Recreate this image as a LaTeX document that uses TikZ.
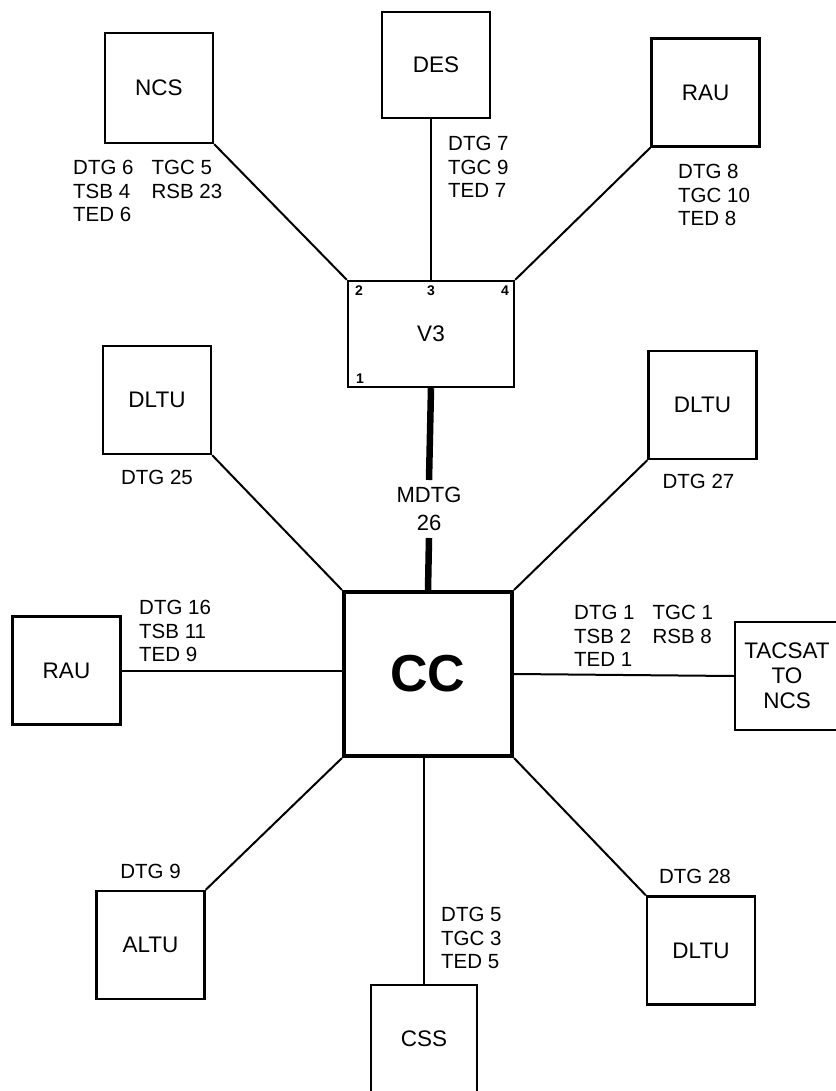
\documentclass[tikz,border=0pt]{standalone}
\usepackage{fontspec}
\setmainfont{Liberation Sans}
\usetikzlibrary{positioning}

\begin{document}
\begin{tikzpicture}[x=1pt, y=-1pt,
  box/.style={draw, line width=2.4pt, minimum width=108pt, minimum height=108pt, inner sep=0pt, align=center, font=\fontsize{22.5}{25}\selectfont},
  hub/.style={box, line width=4.2pt, minimum width=168pt, minimum height=164pt, font=\fontsize{52}{56}\selectfont\bfseries},
  lab/.style={inner sep=0pt, align=left, font=\fontsize{20.5}{23.5}\selectfont},
  port/.style={inner sep=0pt, font=\fontsize{14}{15}\selectfont\bfseries},
  link/.style={line width=2pt},
  trunk/.style={line width=6.5pt}]
\useasboundingbox (0,0) rectangle (835,1091);
% switch and hub
\node[box, minimum width=166pt, minimum height=106pt] (v3) at (431,334) {V3};
\node[hub] (cc) at (428,674) {CC};
\node[align=center, inner xsep=2pt, inner ysep=7pt, font=\fontsize{22}{28}\selectfont] (mdtg) at (429,509) {MDTG\\26};
\node[port, below right=6pt and 8pt of v3.north west] (p2) {2};
\node[port, below=6pt of v3.north] (p3) {3};
\node[port, below left=6pt and 6pt of v3.north east] (p4) {4};
\node[port, above right=5pt and 9pt of v3.south west] (p1) {1};
% top row
\node[box, minimum height=110pt] (ncs) at (159,88) {NCS};
\node[box, minimum height=106pt] (des) at (436,65) {DES};
\node[box] (rau1) at (705.5,92.5) {RAU};
% middle row
\node[box] (dltu1) at (157,400) {DLTU};
\node[box] (dltu2) at (702.5,405) {DLTU};
\node[box] (rau2) at (66.5,670.5) {RAU};
\node[box, minimum width=104pt] (tac) at (787,676) {TACSAT\\TO\\NCS};
% bottom row
\node[box] (altu) at (150.5,945) {ALTU};
\node[box, minimum width=106pt] (css) at (424,1039) {CSS};
\node[box] (dltu3) at (701,950.5) {DLTU};
% trunk group labels
\node[lab, anchor=north west] (ncslab) at (73,158) {\begin{tabular}{@{}l@{\hspace{18pt}}l@{}}DTG 6 & TGC 5\\TSB 4 & RSB 23\\TED 6 & \end{tabular}};
\node[lab, anchor=north west] (deslab) at (448,136) {DTG 7\\TGC 9\\TED 7};
\node[lab, anchor=north west] (rau1lab) at (678,164) {DTG 8\\TGC 10\\TED 8};
\node[lab, below=15pt of dltu1] (dltu1lab) {DTG 25};
\node[lab, below=14pt of dltu2, xshift=-4pt] (dltu2lab) {DTG 27};
\node[lab, anchor=north west] (rau2lab) at (139,600) {DTG 16\\TSB 11\\TED 9};
\node[lab, anchor=north west] (taclab) at (574,603) {\begin{tabular}{@{}l@{\hspace{18pt}}l@{}}DTG 1 & TGC 1\\TSB 2 & RSB 8\\TED 1 & \end{tabular}};
\node[lab, above=11pt of altu] (altulab) {DTG 9};
\node[lab, anchor=north west] (csslab) at (441,907) {DTG 5\\TGC 3\\TED 5};
\node[lab, above=11pt of dltu3, xshift=-6pt] (dltu3lab) {DTG 28};
% links
\draw[link] (ncs.south east) -- (v3.north west);
\draw[link] (v3.north) -- (v3.north |- des.south);
\draw[link] (rau1.south west) -- (v3.north east);
\draw[trunk] (v3.south) -- (mdtg.north);
\draw[trunk] (mdtg.south) -- (cc.north);
\draw[link] (dltu1.south east) -- (cc.north west);
\draw[link] (dltu2.south west) -- (cc.north east);
\draw[link] (rau2.east) -- (rau2.east -| cc.west);
\draw[link] (cc.east) -- (tac.west);
\draw[link] (cc.south west) -- (altu.north east);
\draw[link] (css.north |- cc.south) -- (css.north);
\draw[link] (cc.south east) -- (dltu3.north west);
\end{tikzpicture}
\end{document}
